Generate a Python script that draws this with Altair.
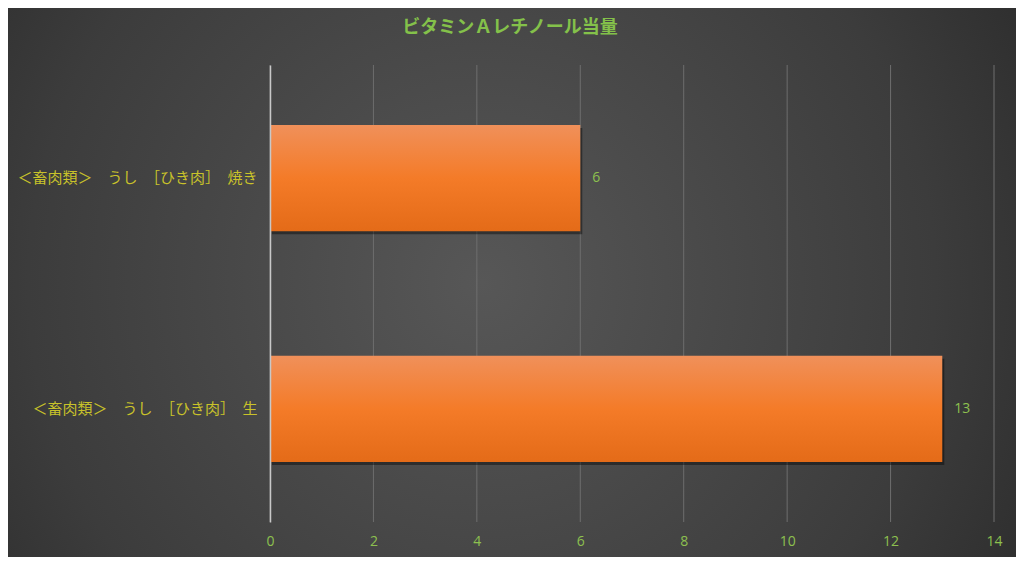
import altair as alt
import pandas as pd

categories = ["＜畜肉類＞　うし　［ひき肉］　焼き", "＜畜肉類＞　うし　［ひき肉］　生"]
values = [6, 13]
x_ticks = [0, 2, 4, 6, 8, 10, 12, 14]
title_text = "ビタミンＡレチノール当量"

df = pd.DataFrame({"food": categories, "value": values})
ticks_df = pd.DataFrame({"tick": x_ticks})

W, H = 724, 457
PL, PT, PR, PB = 262, 57, 22, 35

FONT = "Noto Sans CJK JP"
GREEN = "#8DC04F"
YELLOW = "#C9C22A"

bg_fill = {
    "gradient": "radial",
    "x1": 0.47, "y1": 0.5, "r1": 0,
    "x2": 0.47, "y2": 0.5, "r2": 0.75,
    "stops": [
        {"offset": 0, "color": "#575757"},
        {"offset": 0.6, "color": "#3c3c3c"},
        {"offset": 1, "color": "#222222"},
    ],
}

bar_fill = {
    "gradient": "linear",
    "x1": 0, "y1": 0, "x2": 0, "y2": 1,
    "stops": [
        {"offset": 0, "color": "#F0905A"},
        {"offset": 0.5, "color": "#F47B28"},
        {"offset": 1, "color": "#E46B18"},
    ],
}

xscale = alt.Scale(domain=[0, 14], nice=False)
yscale = alt.Scale(paddingInner=0.54, paddingOuter=0.26)

background = alt.Chart(alt.Data(values=[{"a": 1}])).mark_rect(fill=bg_fill).encode(
    x=alt.value(-PL), x2=alt.value(W + PR),
    y=alt.value(-PT), y2=alt.value(H + PB),
)

grid = alt.Chart(ticks_df).mark_rule(color="#6E6E6E", strokeWidth=1).encode(
    x=alt.X("tick:Q", scale=xscale), y=alt.value(0), y2=alt.value(H)
)

y_enc = alt.Y(
    "food:N",
    sort=categories,
    scale=yscale,
    axis=alt.Axis(
        title=None, domain=True, domainColor="#C8C8C8", domainWidth=1.5,
        ticks=False, labelColor=YELLOW, labelFontSize=15, labelFont=FONT,
        labelPadding=13, labelLimit=400, zindex=1,
    ),
)
x_enc = alt.X(
    "value:Q",
    scale=xscale,
    axis=alt.Axis(
        title=None, values=x_ticks, domain=False, ticks=False, grid=False,
        labelColor=GREEN, labelFontSize=14, labelFont="Open Sans",
        labelPadding=12, labelFlush=False, zindex=1,
    ),
)

base = alt.Chart(df)

shadow = base.mark_bar(color="#000000", opacity=0.4, xOffset=2, yOffset=3).encode(
    x=alt.X("value:Q", scale=xscale),
    y=alt.Y("food:N", sort=categories, scale=yscale),
)

bars = base.mark_bar(fill=bar_fill).encode(x=x_enc, y=y_enc)

labels = base.mark_text(align="left", dx=12, color=GREEN, fontSize=14, font="Open Sans").encode(
    x=alt.X("value:Q"), y=alt.Y("food:N", sort=categories), text="value:Q"
)

chart = (
    alt.layer(background, grid, shadow, bars, labels)
    .properties(
        width=W, height=H,
        autosize=alt.AutoSizeParams(type="none"),
        padding={"left": PL, "top": PT, "right": PR, "bottom": PB},
        title=alt.TitleParams(
            title_text, color="#84C14A", fontSize=18, fontWeight="bold", font=FONT,
            anchor="middle", dx=-122, offset=-29, zindex=1,
        ),
        background="#2E2E2E",
    )
    .configure_view(stroke=None)
)

chart.save("out.html", embed_options={"renderer": "svg", "actions": False})
